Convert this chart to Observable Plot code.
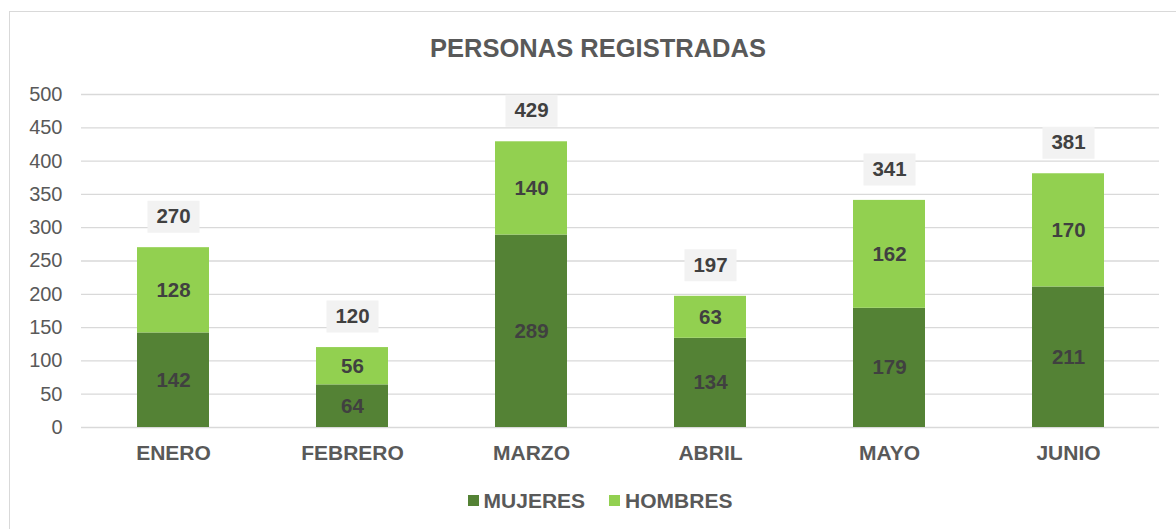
<!DOCTYPE html>
<html>
<head>
<meta charset="utf-8">
<script src="https://cdn.jsdelivr.net/npm/d3@7"></script>
<script src="https://cdn.jsdelivr.net/npm/@observablehq/plot@0.6"></script>
<style>
  html, body { margin: 0; padding: 0; background: #fff; overflow: hidden; }
  body { width: 1176px; height: 529px; position: relative; font-family: "Liberation Sans", Arial, sans-serif; }
  #frame { position: absolute; left: 9px; top: 11px; width: 1300px; height: 700px; border: 1px solid #D9D9D9; box-sizing: border-box; pointer-events: none; }
  #title { position: relative; height: 70px; box-sizing: border-box; padding-top: 33px; padding-left: 20px; text-align: center; font-size: 25.5px; line-height: 30px; font-weight: bold; color: #595959; }
  #chart { position: relative; height: 410px; }
  #chart svg { display: block; }
  #legend { position: relative; padding-top: 8px; padding-left: 24px; text-align: center; font-size: 21px; line-height: 21px; font-weight: bold; color: #595959; }
  .item { display: inline-flex; align-items: center; margin: 0 12px; }
  .sw { width: 11px; height: 11px; margin-right: 5px; display: inline-block; }
</style>
</head>
<body>
<div id="frame"></div>
<div id="title">PERSONAS REGISTRADAS</div>
<div id="chart"></div>
<div id="legend"></div>
<script>
const months = ["ENERO", "FEBRERO", "MARZO", "ABRIL", "MAYO", "JUNIO"];
const series = ["MUJERES", "HOMBRES"];
const mujeres = [142, 64, 289, 134, 179, 211];
const hombres = [128, 56, 140, 63, 162, 170];
const totals = [270, 120, 429, 197, 341, 381];
const yTicks = [0, 50, 100, 150, 200, 250, 300, 350, 400, 450, 500];
const colors = ["#548235", "#92D050"];

const rows = [];
months.forEach((m, i) => rows.push({month: m, serie: "MUJERES", value: mujeres[i]}));
months.forEach((m, i) => rows.push({month: m, serie: "HOMBRES", value: hombres[i]}));
const totalRows = months.map((m, i) => ({month: m, total: totals[i]}));

const boxSymbol = {
  draw(ctx, size) { ctx.rect(-26, -16, 52, 32); }
};

const chart = Plot.plot({
  width: 1176,
  height: 410,
  marginLeft: 81,
  marginRight: 17,
  marginTop: 24,
  marginBottom: 53,
  style: {fontFamily: "'Liberation Sans', Arial, sans-serif", background: "transparent"},
  x: {domain: months, paddingInner: 0.6, paddingOuter: 0.3, label: null},
  y: {domain: [0, 500], label: null},
  color: {domain: series, range: colors},
  marks: [
    Plot.ruleY(yTicks, {stroke: "#D9D9D9", strokeWidth: 1.3}),
    Plot.barY(rows, Plot.stackY({x: "month", y: "value", z: "serie", fill: "serie"})),
    Plot.text(rows, Plot.stackY({x: "month", y: "value", z: "serie", text: d => String(d.value), fill: "#404040", fontSize: 20.5, fontWeight: "bold"})),
    Plot.dot(totalRows, {x: "month", y: "total", symbol: boxSymbol, fill: "#F2F2F2", stroke: null, dy: -31}),
    Plot.text(totalRows, {x: "month", y: "total", text: d => String(d.total), fill: "#404040", fontSize: 20.5, fontWeight: "bold", dy: -31}),
    Plot.axisY({ticks: yTicks, tickSize: 0, tickPadding: 19, fontSize: 20, color: "#595959", tickFormat: d => String(d), label: null}),
    Plot.axisX({tickSize: 0, tickPadding: 18, fontSize: 21, fontWeight: "bold", color: "#595959", label: null})
  ]
});
document.getElementById("chart").appendChild(chart);

const legend = document.getElementById("legend");
series.forEach((s, i) => {
  const item = document.createElement("span");
  item.className = "item";
  const sw = document.createElement("span");
  sw.className = "sw";
  sw.style.background = colors[i];
  item.appendChild(sw);
  item.appendChild(document.createTextNode(s));
  legend.appendChild(item);
});
</script>
</body>
</html>
